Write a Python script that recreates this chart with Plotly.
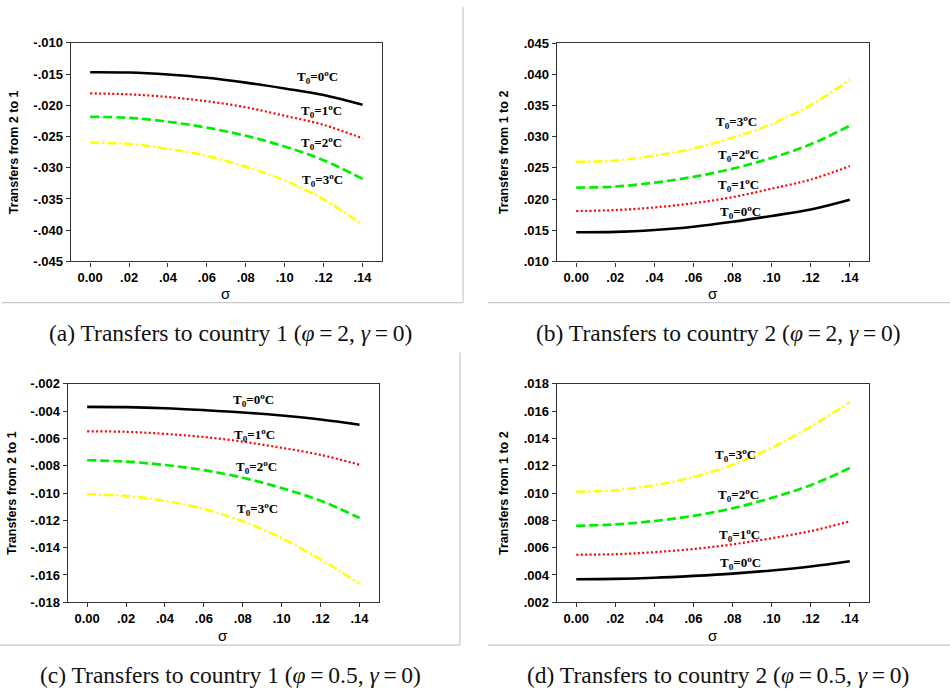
import plotly.graph_objects as go

W, H = 950, 700

# ---------------- data ----------------
sigma = [0.00, 0.02, 0.04, 0.06, 0.08, 0.10, 0.12, 0.14]
x_tickvals = [0.00, 0.02, 0.04, 0.06, 0.08, 0.10, 0.12, 0.14]
x_ticktext = ["0.00", ".02", ".04", ".06", ".08", ".10", ".12", ".14"]

# phi = 2 (magnitude of transfers)
phi2_T0 = [0.01469, 0.01474, 0.01505, 0.01557, 0.01636, 0.01730, 0.01834, 0.01991]
phi2_T1 = [0.01808, 0.01824, 0.01866, 0.01934, 0.02031, 0.02167, 0.02313, 0.02529]
phi2_T2 = [0.02184, 0.02200, 0.02263, 0.02357, 0.02487, 0.02660, 0.02879, 0.03177]
phi2_T3 = [0.02597, 0.02618, 0.02697, 0.02812, 0.02984, 0.03203, 0.03506, 0.03914]

# phi = 0.5
phi05_T0 = [0.00369, 0.00371, 0.00379, 0.00393, 0.00410, 0.00433, 0.00462, 0.00500]
phi05_T1 = [0.00548, 0.00552, 0.00567, 0.00590, 0.00624, 0.00669, 0.00721, 0.00793]
phi05_T2 = [0.00760, 0.00770, 0.00795, 0.00833, 0.00888, 0.00964, 0.01057, 0.01183]
phi05_T3 = [0.01010, 0.01021, 0.01057, 0.01117, 0.01207, 0.01331, 0.01486, 0.01664]

series_names = ["T<sub>0</sub>=0<sup>o</sup>C", "T<sub>0</sub>=1<sup>o</sup>C",
                "T<sub>0</sub>=2<sup>o</sup>C", "T<sub>0</sub>=3<sup>o</sup>C"]

ya_ticks = [-0.010, -0.015, -0.020, -0.025, -0.030, -0.035, -0.040, -0.045]
ya_text = ["-.010", "-.015", "-.020", "-.025", "-.030", "-.035", "-.040", "-.045"]
yb_ticks = [0.010, 0.015, 0.020, 0.025, 0.030, 0.035, 0.040, 0.045]
yb_text = [".010", ".015", ".020", ".025", ".030", ".035", ".040", ".045"]
yc_ticks = [-0.002, -0.004, -0.006, -0.008, -0.010, -0.012, -0.014, -0.016, -0.018]
yc_text = ["-.002", "-.004", "-.006", "-.008", "-.010", "-.012", "-.014", "-.016", "-.018"]
yd_ticks = [0.002, 0.004, 0.006, 0.008, 0.010, 0.012, 0.014, 0.016, 0.018]
yd_text = [".002", ".004", ".006", ".008", ".010", ".012", ".014", ".016", ".018"]

captions = [
    "(a) Transfers to country 1 (<i>φ</i>\u2009=\u20092, <i>γ</i>\u2009=\u20090)",
    "(b) Transfers to country 2 (<i>φ</i>\u2009=\u20092, <i>γ</i>\u2009=\u20090)",
    "(c) Transfers to country 1 (<i>φ</i>\u2009=\u20090.5, <i>γ</i>\u2009=\u20090)",
    "(d) Transfers to country 2 (<i>φ</i>\u2009=\u20090.5, <i>γ</i>\u2009=\u20090)",
]
ytitles = ["Transfers from 2 to 1", "Transfers from 1 to 2",
           "Transfers from 2 to 1", "Transfers from 1 to 2"]

# label positions (data coords) per panel
label_pos = {
    "a": [(0.1171, -0.01547), (0.1188, -0.02085), (0.1188, -0.02599), (0.1193, -0.03193)],
    "b": [(0.0839, 0.0179), (0.0831, 0.0222), (0.0831, 0.0271), (0.0822, 0.0324)],
    "c": [(0.0853, -0.00321), (0.0862, -0.00576), (0.0871, -0.00812), (0.0874, -0.01117)],
    "d": [(0.0839, 0.00491), (0.0834, 0.00696), (0.0831, 0.00983), (0.0817, 0.01275)],
}

# ---------------- styles ----------------
styles = [
    dict(color="#000000", width=2.6, dash="solid"),
    dict(color="#FF0000", width=2.2, dash="2px,2.4px"),
    dict(color="#00EE00", width=2.7, dash="9px,4px"),
    dict(color="#FFFF00", width=2.5, dash="9px,3px,2px,3px"),
]

def px_x(p):
    return p / W

def px_y(p):
    return 1 - p / H

panels = [
    ("a", (70.7, 382.0), (36.7, 260.0), -1, [phi2_T0, phi2_T1, phi2_T2, phi2_T3], ya_ticks, ya_text, (-0.045, -0.010), 14, 293, 230, 333),
    ("b", (556.7, 869.3), (37.0, 260.0), 1, [phi2_T0, phi2_T1, phi2_T2, phi2_T3], yb_ticks, yb_text, (0.010, 0.045), 504, 293, 718, 333),
    ("c", (67.7, 379.0), (385.0, 608.3), -1, [phi05_T0, phi05_T1, phi05_T2, phi05_T3], yc_ticks, yc_text, (-0.018, -0.002), 12, 642, 230, 683),
    ("d", (556.7, 869.3), (385.0, 608.3), 1, [phi05_T0, phi05_T1, phi05_T2, phi05_T3], yd_ticks, yd_text, (0.002, 0.018), 504, 642, 718, 683),
]

fig = go.Figure()
annotations = []
shapes = []

tickfont = dict(family="Arial, Liberation Sans", size=13, color="#000000")

def bold(lst):
    return ["<b>" + t + "</b>" for t in lst]

for i, (key, xb, yb, sign, data, yt, ytx, yr, ytx_x, sig_y, cap_x, cap_y) in enumerate(panels):
    xa = "x" if i == 0 else f"x{i+1}"
    ya = "y" if i == 0 else f"y{i+1}"
    xname = "xaxis" if i == 0 else f"xaxis{i+1}"
    yname = "yaxis" if i == 0 else f"yaxis{i+1}"
    for s, vals in enumerate(data):
        fig.add_trace(go.Scatter(
            x=sigma, y=[sign * v for v in vals], mode="lines",
            line=dict(color=styles[s]["color"], width=styles[s]["width"],
                      dash=styles[s]["dash"], shape="spline", smoothing=1.0),
            xaxis=xa, yaxis=ya, showlegend=False, hoverinfo="skip"))
    fig.layout[xname] = dict(
        domain=[px_x(xb[0]), px_x(xb[1])], range=[-0.01, 0.15], anchor=ya,
        tickvals=x_tickvals, ticktext=bold(x_ticktext), tickfont=tickfont,
        ticks="outside", ticklen=4, tickcolor="#333", showline=True, mirror=True,
        linecolor="#333", linewidth=1.3, showgrid=False, zeroline=False,
        fixedrange=True)
    fig.layout[yname] = dict(
        domain=[px_y(yb[1]), px_y(yb[0])], range=list(yr), anchor=xa,
        tickvals=yt, ticktext=bold(ytx), tickfont=tickfont,
        ticks="outside", ticklen=4, tickcolor="#333", showline=True, mirror=True,
        linecolor="#333", linewidth=1.3, showgrid=False, zeroline=False,
        fixedrange=True)
    for s, (lx, ly) in enumerate(label_pos[key]):
        annotations.append(dict(
            x=lx, y=ly, xref=xa, yref=ya, text="<b>" + series_names[s] + "</b>",
            showarrow=False, xanchor="center", yanchor="middle",
            font=dict(family="Liberation Serif, Times New Roman", size=13, color="#000")))
    annotations.append(dict(
        x=px_x(ytx_x), y=px_y((yb[0] + yb[1]) / 2), xref="paper", yref="paper",
        text="<b>" + ytitles[i] + "</b>", textangle=-90, showarrow=False,
        xanchor="center", yanchor="middle",
        font=dict(family="Arial, Liberation Sans", size=12.5, color="#000")))
    annotations.append(dict(
        x=px_x((xb[0] + xb[1]) / 2), y=px_y(sig_y), xref="paper", yref="paper",
        text="σ", showarrow=False, xanchor="center", yanchor="middle",
        font=dict(family="Arial, Liberation Sans", size=15, color="#000")))
    annotations.append(dict(
        x=px_x(cap_x), y=px_y(cap_y), xref="paper", yref="paper",
        text=captions[i], showarrow=False, xanchor="center", yanchor="middle",
        font=dict(family="Liberation Serif, DejaVu Serif", size=23.5, color="#111")))

gray = dict(color="#C8C8C8", width=1.2)
for (x0, y0, x1, y1) in [(463, 0, 463, 302), (2, 302, 463, 302),
                         (488, 302, 950, 302),
                         (460, 353, 460, 652), (0, 652, 460, 652),
                         (488, 652, 950, 652)]:
    shapes.append(dict(type="line", xref="paper", yref="paper",
                       x0=px_x(x0), y0=px_y(y0), x1=px_x(x1), y1=px_y(y1), line=gray))

fig.update_layout(
    width=W, height=H, margin=dict(l=0, r=0, t=0, b=0),
    paper_bgcolor="white", plot_bgcolor="white",
    annotations=annotations, shapes=shapes, showlegend=False)

fig.write_html("out.html", config={"displayModeBar": False},
               post_script="document.body.style.margin='0px';")
